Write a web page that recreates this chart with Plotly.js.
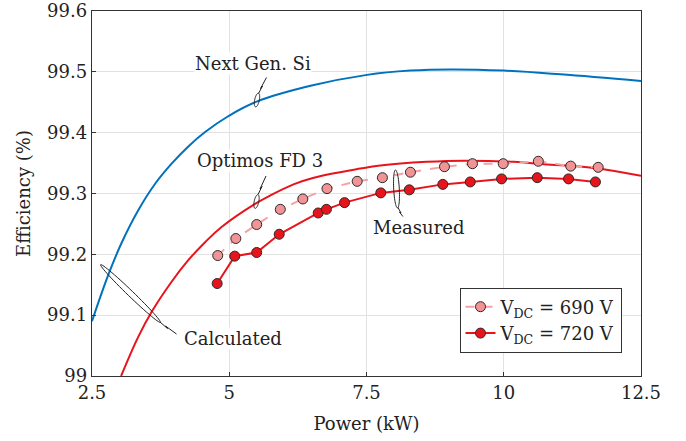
<!DOCTYPE html>
<html>
<head>
<meta charset="utf-8">
<script src="https://cdn.plot.ly/plotly-3.0.1.min.js"></script>
<style>html,body{margin:0;padding:0;background:#fff;}#chart{width:686px;height:441px;}</style>
</head>
<body>
<div id="chart"></div>
<script>
// Calculated curve: Next Gen. Si
const siPower = [2.5, 2.80, 3.04, 3.34, 3.65, 3.95, 4.25, 4.56, 4.98, 5.50, 6.48, 7.51, 8.30, 9.03, 10.0, 11.03, 12.5];
const siEff   = [99.09, 99.167, 99.219, 99.272, 99.316, 99.349, 99.377, 99.401, 99.427, 99.451, 99.477, 99.495, 99.502, 99.504, 99.502, 99.496, 99.485];

// Calculated curve: Optimos FD 3
const fdPower = [3.03, 3.34, 3.59, 3.95, 4.25, 4.56, 4.86, 5.47, 5.71, 6.17, 6.54, 7.39, 7.75, 8.60, 9.27, 10.18, 10.73, 11.64, 12.5];
const fdEff   = [99.0, 99.064, 99.106, 99.155, 99.190, 99.220, 99.245, 99.283, 99.295, 99.315, 99.326, 99.341, 99.346, 99.352, 99.354, 99.352, 99.348, 99.342, 99.329];

// Measured, V_DC = 690 V
const m690Power = [4.79, 5.12, 5.50, 5.93, 6.34, 6.78, 7.33, 7.79, 8.30, 8.92, 9.43, 9.99, 10.63, 11.22, 11.72];
const m690Eff   = [99.198, 99.226, 99.249, 99.274, 99.291, 99.308, 99.320, 99.326, 99.335, 99.344, 99.349, 99.349, 99.353, 99.345, 99.343];

// Measured, V_DC = 720 V
const m720Power = [4.78, 5.10, 5.50, 5.91, 6.62, 6.77, 7.10, 7.76, 8.28, 8.89, 9.39, 9.96, 10.61, 11.18, 11.67];
const m720Eff   = [99.152, 99.197, 99.203, 99.233, 99.268, 99.274, 99.285, 99.301, 99.306, 99.315, 99.319, 99.324, 99.326, 99.324, 99.319];

const xTicks = [2.5, 5, 7.5, 10, 12.5];
const xTickText = ['2.5', '5', '7.5', '10', '12.5'];
const yTicks = [99, 99.1, 99.2, 99.3, 99.4, 99.5, 99.6];
const yTickText = ['99', '99.1', '99.2', '99.3', '99.4', '99.5', '99.6'];

const seriesNames = ['V<sub>DC</sub> = 690 V', 'V<sub>DC</sub> = 720 V'];
const labels = ['Next Gen. Si', 'Optimos FD 3', 'Measured', 'Calculated'];

// ---- layout geometry (pixels) ----
const ML = 92, MT = 11, PW = 549, PH = 365;
const X0 = 2.5, X1 = 12.5, Y0 = 99, Y1 = 99.6;
function X(px){ return X0 + (px - ML) / PW * (X1 - X0); }
function Y(py){ return Y1 - (py - MT) / PH * (Y1 - Y0); }
function poly(pts, close){
  return pts.map((p,i)=>(i? 'L':'M') + X(p[0]).toFixed(5) + ',' + Y(p[1]).toFixed(5)).join(' ') + (close ? ' Z' : '');
}
function ellipsePath(cx, cy, rx, ry, angDeg){
  const a = angDeg * Math.PI / 180, pts = [];
  for (let i = 0; i < 60; i++){
    const t = i / 60 * 2 * Math.PI;
    const ex = rx * Math.cos(t), ey = ry * Math.sin(t);
    pts.push([cx + ex * Math.cos(a) - ey * Math.sin(a), cy + ex * Math.sin(a) + ey * Math.cos(a)]);
  }
  return poly(pts, true);
}
const ink = '#222222';
function shp(path){ return {type:'path', xref:'x', yref:'y', path: path, line:{color: ink, width: 1}, fillcolor:'rgba(0,0,0,0)', layer:'above'}; }

const shapes = [
  shp(ellipsePath(257, 100, 2.3, 7, 12)),
  shp(poly([[258.5,93.5],[262.5,86],[260.5,88.5],[266.5,77.5]])),
  shp(ellipsePath(256.5, 201.5, 2.3, 7, 12)),
  shp(poly([[258,194.5],[262,186.5],[260,189],[266,176]])),
  shp(ellipsePath(396.5, 189, 2.8, 19, -3)),
  shp(poly([[398,207.5],[401,213],[399.5,212],[404,218]])),
  shp(ellipsePath(130.5, 293.5, 41.5, 2.8, 44)),
  shp(poly([[160,322],[167.5,328.5],[165.5,326],[176.5,334]]))
];

const font = 'DejaVu Serif';
const fs = 18;
function ann(text, px, py){
  return {text: text, x: X(px), y: Y(py), xref:'x', yref:'y', showarrow:false,
          font:{family: font, size: fs, color: ink}, bgcolor:'#ffffff', borderpad: 0,
          xanchor:'center', yanchor:'middle'};
}
const annotations = [
  ann(labels[0], 253, 63),
  ann(labels[1], 259.5, 160),
  ann(labels[2], 418.5, 227),
  ann(labels[3], 233, 338)
];

const red = '#e8141c';
const traces = [
  {x: siPower, y: siEff, mode:'lines', line:{color:'#0072bd', width:2, shape:'spline', smoothing:1.1}, showlegend:false, hoverinfo:'skip'},
  {x: fdPower, y: fdEff, mode:'lines', line:{color:red, width:2, shape:'spline', smoothing:1.1}, showlegend:false, hoverinfo:'skip'},
  {x: m690Power, y: m690Eff, mode:'lines+markers', name: seriesNames[0],
   line:{color:'#f5a1a4', width:2, dash:'dash'},
   marker:{size:10, color:'#f19496', line:{color:'#2a2a2a', width:1}}},
  {x: m720Power, y: m720Eff, mode:'lines+markers', name: seriesNames[1],
   line:{color:red, width:2},
   marker:{size:10, color:red, line:{color:'#2a2a2a', width:1}}}
];

const axisCommon = {
  showgrid:true, gridcolor:'#e2e2e2', gridwidth:1, zeroline:false,
  showline:true, linecolor:'#333333', linewidth:1.3, mirror:true,
  ticks:'inside', ticklen:4, tickcolor:'#333333', tickwidth:1,
  tickfont:{family: font, size: fs, color: ink}
};

const layout = {
  width: 686, height: 441,
  font:{family: font, size: fs, color: ink},
  margin:{l: ML, t: MT, r: 686 - ML - PW, b: 441 - MT - PH},
  paper_bgcolor:'#ffffff', plot_bgcolor:'#ffffff',
  showlegend: true,
  xaxis: Object.assign({}, axisCommon, {range:[X0, X1], tickvals: xTicks, ticktext: xTickText,
    title:{text:'Power (kW)', font:{family: font, size: fs, color: ink}, standoff: 15}}),
  yaxis: Object.assign({}, axisCommon, {range:[Y0, Y1], tickvals: yTicks, ticktext: yTickText,
    title:{text:'Efficiency (%)', font:{family: font, size: fs, color: ink}, standoff: 11}}),
  legend:{x: (621.5 - ML) / PW, xanchor:'right', y: (MT + PH - 287.5) / PH, yanchor:'top',
    bgcolor:'#ffffff', bordercolor:'#333333', borderwidth:1,
    font:{family: font, size: fs, color: ink}, tracegroupgap: 0},
  shapes: shapes,
  annotations: annotations
};

Plotly.newPlot('chart', traces, layout, {staticPlot:true, displayModeBar:false});
</script>
</body>
</html>
